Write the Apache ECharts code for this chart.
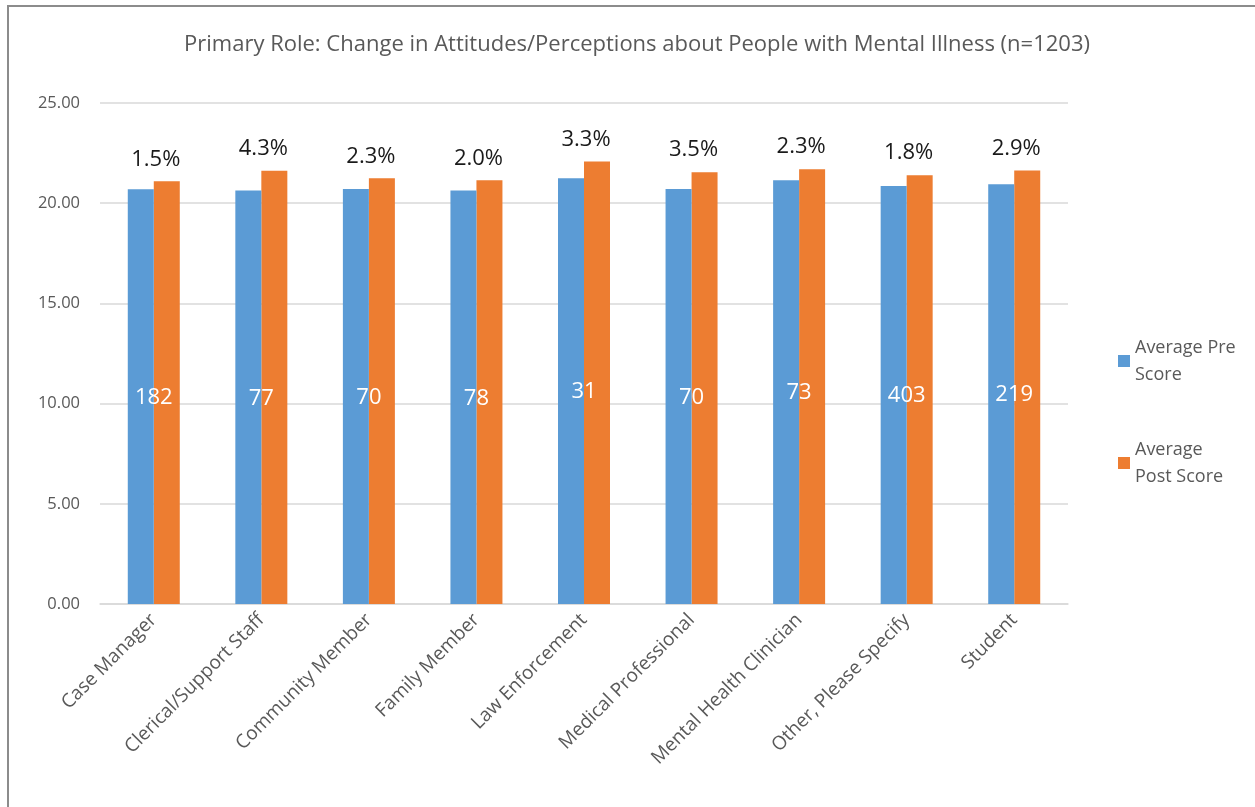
<!DOCTYPE html>
<html>
<head>
<meta charset="utf-8">
<script src="https://cdn.jsdelivr.net/npm/echarts@6/dist/echarts.min.js"></script>
<style>
  html, body { margin: 0; padding: 0; background: #fff; }
  #chart { width: 1255px; height: 807px; }
</style>
</head>
<body>
<div id="chart"></div>
<script>
// Respondent roles
const categories = [
  'Case Manager', 'Clerical/Support Staff', 'Community Member', 'Family Member',
  'Law Enforcement', 'Medical Professional', 'Mental Health Clinician',
  'Other, Please Specify', 'Student'
];
// Average attitude scores before and after training
const preScores  = [20.70, 20.63, 20.71, 20.63, 21.25, 20.71, 21.15, 20.86, 20.95];
const postScores = [21.09, 21.62, 21.24, 21.14, 22.08, 21.55, 21.70, 21.40, 21.63];
// Percent change shown above each pair
const changeLabels = ['1.5%', '4.3%', '2.3%', '2.0%', '3.3%', '3.5%', '2.3%', '1.8%', '2.9%'];
// Respondents per role
const counts = [182, 77, 70, 78, 31, 70, 73, 403, 219];
// Value axis
const yMin = 0, yMax = 25, yStep = 5;

const FONT = '"Open Sans", "Noto Sans", sans-serif';
const GRAY = '#595959';

const chart = echarts.init(document.getElementById('chart'), null, { renderer: 'canvas' });

chart.setOption({
  backgroundColor: '#ffffff',
  animation: false,
  title: {
    text: 'Primary Role: Change in Attitudes/Perceptions about People with Mental Illness (n=1203)',
    left: 632,
    textAlign: 'center',
    top: 29,
    textStyle: { fontFamily: FONT, fontSize: 22, fontWeight: 'normal', color: GRAY }
  },
  graphic: [
    { type: 'line', shape: { x1: 7, y1: 6, x2: 1255, y2: 6 }, style: { stroke: '#8c8c8c', lineWidth: 2 } },
    { type: 'line', shape: { x1: 8, y1: 5, x2: 8, y2: 807 }, style: { stroke: '#8c8c8c', lineWidth: 2 } }
  ],
  legend: {
    orient: 'vertical',
    left: 1113,
    top: 329,
    itemWidth: 12,
    itemHeight: 12,
    itemGap: 48,
    icon: 'rect',
    textStyle: { fontFamily: FONT, fontSize: 18, color: GRAY, lineHeight: 27 },
    data: ['Average Pre\nScore', 'Average\nPost Score']
  },
  grid: { left: 100, right: 187, top: 103, bottom: 203, containLabel: false },
  xAxis: {
    type: 'category',
    data: categories,
    axisLine: { lineStyle: { color: '#d9d9d9', width: 1.5 } },
    axisTick: { show: false },
    axisLabel: {
      interval: 0,
      rotate: 45,
      margin: 13,
      fontFamily: FONT,
      fontSize: 19,
      color: GRAY
    }
  },
  yAxis: {
    type: 'value',
    min: yMin,
    max: yMax,
    interval: yStep,
    axisLine: { show: false },
    axisTick: { show: false },
    splitLine: { lineStyle: { color: '#d9d9d9', width: 1.5 } },
    axisLabel: {
      formatter: v => v.toFixed(2),
      margin: 20,
      fontFamily: FONT,
      fontSize: 16.5,
      color: GRAY
    }
  },
  series: [
    {
      name: 'Average Pre\nScore',
      type: 'bar',
      data: preScores,
      barWidth: 26,
      barGap: '0%',
      itemStyle: { color: '#5B9BD5' },
      label: {
        show: true,
        position: 'inside',
        offset: [13, 1],
        formatter: p => String(counts[p.dataIndex]),
        fontFamily: FONT,
        fontSize: 22,
        color: '#ffffff'
      },
      z: 3
    },
    {
      name: 'Average\nPost Score',
      type: 'bar',
      data: postScores,
      barWidth: 26,
      barGap: '0%',
      itemStyle: { color: '#ED7D31' },
      label: {
        show: true,
        position: 'top',
        distance: 11,
        offset: [-11, 0],
        formatter: p => changeLabels[p.dataIndex],
        fontFamily: FONT,
        fontSize: 22,
        color: '#1a1a1a'
      },
      z: 2
    }
  ]
});
</script>
</body>
</html>
